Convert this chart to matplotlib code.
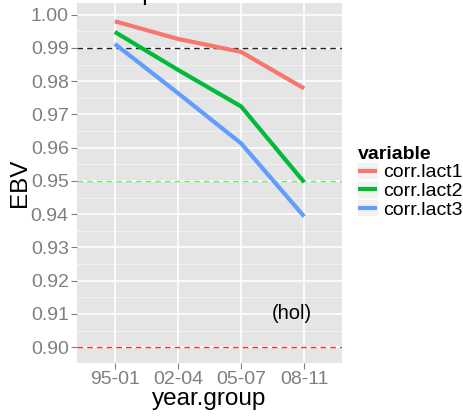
import matplotlib.pyplot as plt
import matplotlib.patches as mpatches
import numpy as np

plt.rcParams['font.family'] = ['Liberation Sans', 'DejaVu Sans']

groups = ["95-01", "02-04", "05-07", "08-11"]
lact1 = [0.9980, 0.9927, 0.9888, 0.9778]
lact2 = [0.9948, 0.9834, 0.9724, 0.9496]
lact3 = [0.9912, 0.9764, 0.9613, 0.9393]
series = ["corr.lact1", "corr.lact2", "corr.lact3"]
colors = ["#F8766D", "#00BA38", "#619CFF"]
yticks = [0.90, 0.91, 0.92, 0.93, 0.94, 0.95, 0.96, 0.97, 0.98, 0.99, 1.00]

fig = plt.figure(figsize=(4.63, 4.17), dpi=100)
ax = fig.add_axes([0.1663, 0.1295, 0.7387 - 0.1663, 0.9928 - 0.1295])
ax.set_facecolor("#E5E5E5")

x = np.arange(len(groups))
ax.set_xlim(-0.6, 3.6)
ax.set_ylim(0.89525, 1.0035)

# grid
for yv in yticks:
    ax.axhline(yv, color="white", lw=1.2, zorder=0)
for yv in np.arange(0.905, 1.0, 0.01):
    ax.axhline(yv, color="#F2F2F2", lw=0.7, zorder=0)
for xv in x:
    ax.axvline(xv, color="white", lw=1.2, zorder=0)

ax.axhline(0.99, color="#222222", lw=1.0, ls=(0, (4, 3)), zorder=1)
ax.axhline(0.95, color="#66EE66", lw=1.0, ls=(0, (4, 3)), zorder=1)
ax.axhline(0.90, color="#EE3333", lw=1.0, ls=(0, (4, 3)), zorder=1)

for vals, lab, c in zip([lact1, lact2, lact3], series, colors):
    ax.plot(x, vals, color=c, lw=3, label=lab, solid_capstyle="butt", zorder=2)

ax.text(2.8, 0.9102, "(hol)", fontsize=14.5, ha="center", va="center", color="black")

ax.set_xticks(x)
ax.set_xticklabels(groups)
ax.set_yticks(yticks)
ax.set_yticklabels(["%.2f" % v for v in yticks])
ax.tick_params(colors="#7F7F7F", labelsize=14, length=4, width=0.8, labelcolor="#7F7F7F", pad=2)
for s in ax.spines.values():
    s.set_visible(False)

ax.set_xlabel("year.group", fontsize=17.5, labelpad=0)
ax.set_ylabel("EBV", fontsize=17.5, labelpad=0)

leg = ax.legend(loc="upper left", bbox_to_anchor=(1.03, 0.625), frameon=False,
                title="variable", fontsize=14, handlelength=1.0, handletextpad=0.3,
                labelspacing=0.05, borderaxespad=0)
leg.get_title().set_fontweight("bold")
leg.get_title().set_fontsize(14)
leg._legend_box.align = "left"

# grey key boxes behind legend lines
fig.canvas.draw()
for ln in leg.get_lines():
    bb = ln.get_window_extent()
    cy = (bb.y0 + bb.y1) / 2
    rect = mpatches.Rectangle((bb.x0 - 1, cy - 8.5), bb.width + 2, 17,
                              transform=None, facecolor="#F2F2F2",
                              edgecolor="white", lw=0.5, zorder=-1)
    fig.patches.append(rect)

# title clipped at the top of the image, as in the original
fig.text(0.45, 1.001, "Test plot of trend form", fontsize=17.5, ha="center", va="baseline")

fig.savefig("out.png", dpi=100)
